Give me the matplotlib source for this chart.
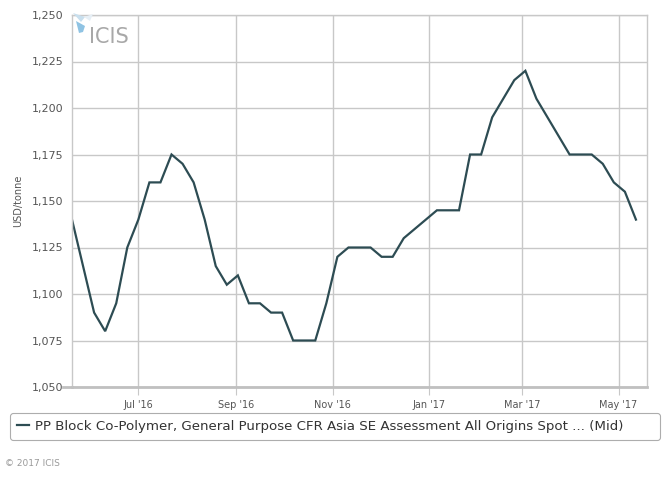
import datetime as dt
import matplotlib
matplotlib.use("Agg")
import matplotlib.pyplot as plt
import matplotlib.dates as mdates
from matplotlib.ticker import FuncFormatter, MultipleLocator
from matplotlib.patches import Polygon
from matplotlib.lines import Line2D

# weekly assessment, Fridays from 20 May 2016
start = dt.date(2016, 5, 20)
prices = [1140, 1115, 1090, 1080, 1095, 1125, 1140, 1160, 1160, 1175,
          1170, 1160, 1140, 1115, 1105, 1110, 1095, 1095, 1090, 1090,
          1075, 1075, 1075, 1095, 1120, 1125, 1125, 1125, 1120, 1120,
          1130, 1135, 1140, 1145, 1145, 1145, 1175, 1175, 1195, 1205,
          1215, 1220, 1205, 1195, 1185, 1175, 1175, 1175, 1170, 1160,
          1155, 1140]
dates = [start + dt.timedelta(weeks=i) for i in range(len(prices))]
month_ticks = [dt.date(2016, 7, 1), dt.date(2016, 9, 1), dt.date(2016, 11, 1),
               dt.date(2017, 1, 1), dt.date(2017, 3, 1), dt.date(2017, 5, 1)]
series_name = "PP Block Co-Polymer, General Purpose CFR Asia SE Assessment All Origins Spot ... (Mid)"

W, H = 668, 478
fig = plt.figure(figsize=(W / 100, H / 100), dpi=100)
ax = fig.add_axes([72 / W, 1 - 387 / H, (647 - 72) / W, (387 - 15) / H])

line_col = "#2d4c53"
grid_col = "#c8c8c8"
ax.plot(dates, prices, color=line_col, lw=1.6, label=series_name,
        solid_joinstyle="miter")

ax.set_xlim(start, dt.date(2017, 5, 19))
ax.set_ylim(1050, 1250)
ax.yaxis.set_major_locator(MultipleLocator(25))
ax.yaxis.set_major_formatter(FuncFormatter(lambda v, p: f"{v:,.0f}"))
ax.set_xticks(month_ticks)
ax.xaxis.set_major_formatter(mdates.DateFormatter("%b '%y"))

ax.grid(True, color=grid_col, lw=1)
ax.set_axisbelow(True)
for side in ["top", "right", "left"]:
    ax.spines[side].set_color(grid_col)
    ax.spines[side].set_linewidth(1)
ax.spines["bottom"].set_color("#c0c0c0")
ax.spines["bottom"].set_linewidth(2)
ax.tick_params(axis="y", length=0, labelsize=8, labelcolor="#555555", pad=6)
ax.tick_params(axis="x", length=6, color=grid_col, labelsize=7,
               labelcolor="#555555", pad=3)
ax.set_ylabel("USD/tonne", fontsize=7, color="#555555", labelpad=6)

# short extension of the bottom axis line to the left
fig.lines.append(Line2D([63 / W, 72 / W], [1 - 387 / H, 1 - 387 / H],
                        color="#c0c0c0", lw=2, transform=fig.transFigure,
                        figure=fig))

# legend box
leg = fig.legend(loc="center", bbox_to_anchor=(10 / W, 1 - 441 / H, 650 / W, 29 / H),
                 mode="expand", frameon=True, fancybox=True, fontsize=9.6,
                 handlelength=0.9, handletextpad=0.5, borderpad=0.5,
                 borderaxespad=0, labelcolor="#333333")
leg.get_frame().set_edgecolor("#999999")
leg.get_frame().set_linewidth(0.8)

fig.text(5 / W, 1 - 464 / H, "\u00a9 2017 ICIS", fontsize=6.5, color="#999999",
         va="center", ha="left")

# ICIS watermark, drawn on top of the axes background
ax.text(89 / W, 1 - 37 / H, "ICIS", fontsize=15, color="#a8a8a8",
        va="center", ha="left", transform=fig.transFigure, zorder=5)
logo_pts = [
    ([(73, 13), (85, 17), (81, 22)], "#c8dfee"),
    ([(84, 17), (93, 14), (90, 21)], "#e6eff6"),
    ([(76, 21), (85, 26), (83, 32), (79, 33)], "#8fc3e3"),
]
for pts, col in logo_pts:
    ax.add_patch(Polygon([(x / W, 1 - y / H) for x, y in pts], closed=True,
                         facecolor=col, edgecolor="none",
                         transform=fig.transFigure, clip_on=False, zorder=5))

fig.savefig("out.png", dpi=100)
